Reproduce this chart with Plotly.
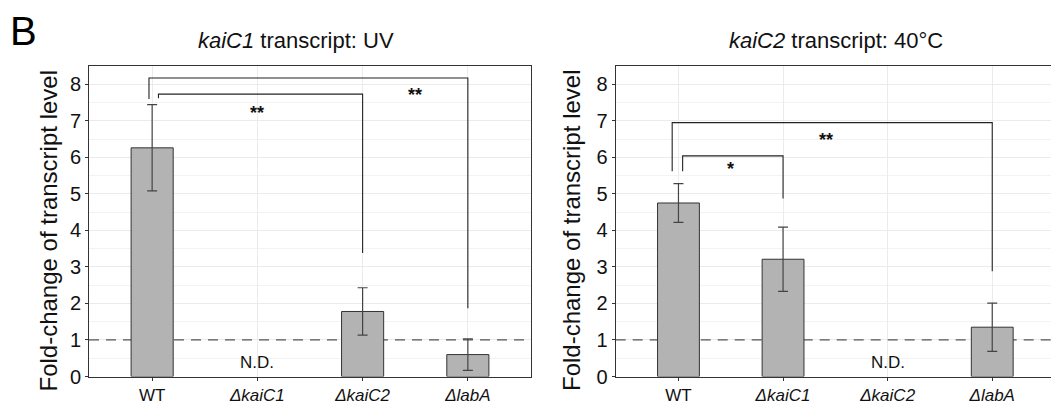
import plotly.graph_objects as go

# The page body adds an 8px margin, so the figure is sized to the visible area
OFF = 8
FW, FH = 1059 - OFF, 405 - OFF

categories = ["WT", "ΔkaiC1", "ΔkaiC2", "ΔlabA"]
tick_labels = ["WT", "<i>ΔkaiC1</i>", "<i>ΔkaiC2</i>", "<i>ΔlabA</i>"]

# Panel 1: kaiC1 transcript, UV
uv_values = [6.26, None, 1.78, 0.60]
uv_errors = [1.18, None, 0.65, 0.43]
# Panel 2: kaiC2 transcript, 40°C
heat_values = [4.75, 3.21, None, 1.35]
heat_errors = [0.53, 0.88, None, 0.66]
baseline = 1.0

# significance brackets: (left x, right x, top, left foot, right foot, label, label x, label y)
uv_brackets = [
    (0.06, 2, 7.73, 7.62, 3.38, "**", 1.0, 7.22),
    (-0.03, 3, 8.17, 7.60, 1.87, "**", 2.5, 7.70),
]
heat_brackets = [
    (0.04, 1, 6.04, 5.62, 4.87, "*", 0.5, 5.67),
    (-0.06, 3, 6.95, 5.62, 2.88, "**", 1.41, 6.48),
]
nd_uv = (1, 0.39)
nd_heat = (2, 0.39)

titles = ["<i>kaiC1</i> transcript: UV", "<i>kaiC2</i> transcript: 40°C"]
y_title = "Fold-change of transcript level"

FONT = "Liberation Sans, Arial, sans-serif"
BAR_FILL = "#b3b3b4"
LINE = "#333333"
XR = [-0.6, 3.6]
YR = [0, 8.5]


def px(x):
    return (x - OFF) / FW


def py(y):
    return 1 - (y - OFF) / FH


panels = [
    dict(vals=uv_values, errs=uv_errors, br=uv_brackets, nd=nd_uv,
         xd=[px(89), px(531)], title_x=px(296), ytitle_x=px(48)),
    dict(vals=heat_values, errs=heat_errors, br=heat_brackets, nd=nd_heat,
         xd=[px(615.7), px(1055)], title_x=px(836), ytitle_x=px(571.5)),
]
ydom = [py(376.5), py(66)]

fig = go.Figure()
annotations = []
for i, p in enumerate(panels):
    bx, by = ("x", "y") if i == 0 else ("x2", "y2")        # base axes (grid + baseline)
    ox, oy = ("x3", "y3") if i == 0 else ("x4", "y4")      # overlay axes (bars, brackets)
    fig.add_trace(go.Scatter(
        x=XR, y=[baseline, baseline], mode="lines",
        line=dict(color="#555555", width=1.2, dash="10px,7px"),
        xaxis=bx, yaxis=by, showlegend=False, hoverinfo="skip"))
    xs = [k for k, v in enumerate(p["vals"]) if v is not None]
    fig.add_trace(go.Bar(
        x=xs, y=[p["vals"][k] for k in xs], width=0.4,
        marker=dict(color=BAR_FILL, line=dict(color=LINE, width=1)),
        error_y=dict(type="data", array=[p["errs"][k] for k in xs],
                     color="#444444", thickness=1.2, width=5),
        xaxis=ox, yaxis=oy, showlegend=False, hoverinfo="skip"))
    for (x0, x1, top, lf, rf, lab, lx, ly) in p["br"]:
        fig.add_trace(go.Scatter(
            x=[x0, x0, x1, x1], y=[lf, top, top, rf], mode="lines",
            line=dict(color="#222222", width=1.1), xaxis=ox, yaxis=oy,
            showlegend=False, hoverinfo="skip"))
        annotations.append(dict(x=lx, y=ly, xref=bx, yref=by, text="<b>" + lab + "</b>",
                                showarrow=False, font=dict(size=18, color="#111", family=FONT)))
    annotations.append(dict(x=p["nd"][0], y=p["nd"][1], xref=bx, yref=by, text="N.D.",
                            showarrow=False, font=dict(size=17, color="#111", family=FONT)))
    annotations.append(dict(x=p["title_x"], y=py(41), xref="paper", yref="paper",
                            xanchor="center", yanchor="middle",
                            text=titles[i], showarrow=False,
                            font=dict(size=22, color="#111", family=FONT)))
    annotations.append(dict(x=p["ytitle_x"], y=py(230.5), xref="paper", yref="paper",
                            xanchor="center", yanchor="middle",
                            text=y_title, showarrow=False, textangle=-90,
                            font=dict(size=24, color="#111", family=FONT)))

annotations.append(dict(x=px(23.5), y=py(8), xref="paper", yref="paper", text="B",
                        xanchor="center", yanchor="top", borderpad=0,
                        showarrow=False, font=dict(size=40, color="#000", family=FONT)))

axis_common_x = dict(range=XR, tickvals=[0, 1, 2, 3], ticktext=tick_labels, automargin=False,
                     showgrid=True, gridcolor="#ebebeb", gridwidth=1,
                     showline=True, linecolor=LINE, linewidth=1, mirror=True,
                     ticks="outside", ticklen=3, tickcolor=LINE, zeroline=False,
                     tickfont=dict(size=17, color="#111", family=FONT))
axis_common_y = dict(range=YR, tickvals=list(range(0, 9)), domain=ydom, automargin=False,
                     showgrid=True, gridcolor="#ebebeb", gridwidth=1,
                     minor=dict(tickvals=[k + 0.5 for k in range(8)], showgrid=True,
                                gridcolor="#f3f3f3", gridwidth=1, ticks=""),
                     showline=True, linecolor=LINE, linewidth=1, mirror=True,
                     ticks="outside", ticklen=3, tickcolor=LINE, zeroline=False,
                     tickfont=dict(size=20, color="#111", family=FONT))
overlay_x = dict(range=XR, visible=False, showgrid=False, zeroline=False, automargin=False)
overlay_y = dict(range=YR, visible=False, showgrid=False, zeroline=False, automargin=False)

fig.update_layout(
    template="none",
    width=FW, height=FH, margin=dict(l=0, r=0, t=0, b=0, autoexpand=False),
    paper_bgcolor="white", plot_bgcolor="white",
    xaxis=dict(domain=panels[0]["xd"], anchor="y", **axis_common_x),
    yaxis=dict(anchor="x", **axis_common_y),
    xaxis2=dict(domain=panels[1]["xd"], anchor="y2", **axis_common_x),
    yaxis2=dict(anchor="x2", **axis_common_y),
    xaxis3=dict(overlaying="x", anchor="y3", **overlay_x),
    yaxis3=dict(overlaying="y", anchor="x3", **overlay_y),
    xaxis4=dict(overlaying="x2", anchor="y4", **overlay_x),
    yaxis4=dict(overlaying="y2", anchor="x4", **overlay_y),
    annotations=annotations, barmode="overlay", showlegend=False,
)

fig.write_html("out.html")
